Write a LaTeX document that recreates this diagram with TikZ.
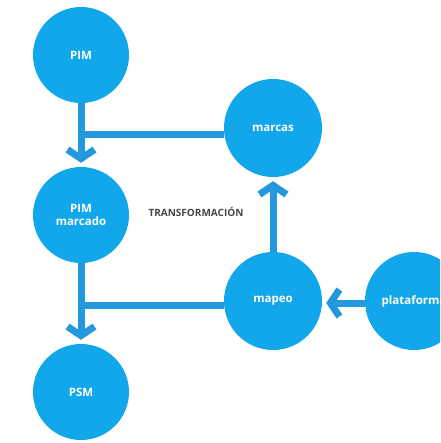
\documentclass[tikz,border=0pt]{standalone}
\usepackage{fontspec}
\setmainfont{Open Sans}
\usetikzlibrary{arrows.meta, positioning}

\definecolor{bubbleBlue}{RGB}{18,166,234}
\definecolor{linkBlue}{RGB}{36,152,222}
\definecolor{labelGray}{RGB}{70,70,70}

\begin{document}
\begin{tikzpicture}[
    x=1pt, y=-1pt,
    bubble/.style={circle, fill=bubbleBlue, minimum size=96pt, inner sep=0pt,
        text=white, font=\fontsize{11.5}{12.5}\selectfont\bfseries, align=center},
    link/.style={draw=linkBlue, line width=7pt},
    linkArrow/.style={link, -{Straight Barb[length=9pt, width=27pt]}, shorten >=4pt}
]
    \useasboundingbox (0,0) rectangle (440,443);
    \clip (0,0) rectangle (440,443);

    % --- LEFT COLUMN: MODELS ---
    \node[bubble] (pim) at (81,55) {PIM};
    \node[bubble] (pimMarcado) at (81,215) {PIM\\marcado};
    \node[bubble] (psm) at (81,392) {PSM};

    % --- RIGHT SIDE: MARKS, MAPPING, PLATFORM ---
    \node[bubble, minimum size=98pt] (marcas) at (273,128) {marcas};
    \node[bubble, minimum size=98pt] (mapeo) at (273,301) {mapeo};
    \node[bubble, minimum size=98pt] (plataforma) at (414,301) {plataforma};

    % Junction points on the vertical flow
    \coordinate (joinMarcas) at (81,135);
    \coordinate (joinMapeo) at (81,305);

    % Vertical flow with arrows
    \draw[linkArrow] (pim) -- (pimMarcado);
    \draw[linkArrow] (pimMarcado) -- (psm);

    % Side inputs joining the flow
    \draw[link] (joinMarcas) -- (joinMarcas -| marcas.west);
    \draw[link] (joinMapeo) -- (joinMapeo -| mapeo.west);

    % Mapping arrows
    \draw[linkArrow] (mapeo) -- (marcas);
    \draw[linkArrow] (plataforma.west |- 0,303) -- (mapeo.east |- 0,303);

    % Label
    \node[font=\fontsize{10}{11}\selectfont\bfseries, text=labelGray] (transf) at (196,212) {TRANSFORMACIÓN};

\end{tikzpicture}
\end{document}
